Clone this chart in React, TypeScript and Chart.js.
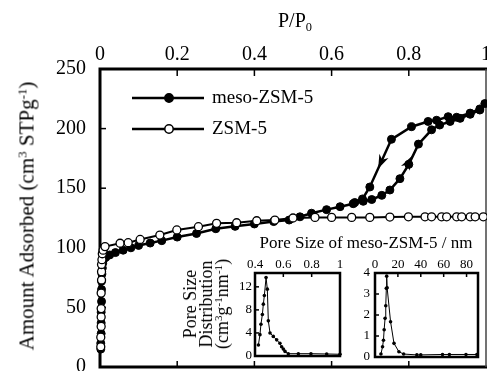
import React, { useEffect, useRef } from "react";
import { Chart, registerables } from "chart.js";

Chart.register(...registerables);

const SERIF = "'Liberation Serif', 'Times New Roman', Times, serif";

// ---------- Main isotherm ----------
const pTickValues = [0, 0.2, 0.4, 0.6, 0.8, 1];
const vTickValues = [0, 50, 100, 150, 200, 250];

const zsmP = [0.002, 0.002, 0.003, 0.003, 0.003, 0.003, 0.004, 0.004, 0.004, 0.005, 0.006, 0.008, 0.013, 0.052, 0.073, 0.104, 0.155, 0.199, 0.255, 0.302, 0.354, 0.406, 0.453, 0.5, 0.557, 0.6, 0.652, 0.699, 0.751, 0.799, 0.842, 0.859, 0.885, 0.898, 0.924, 0.937, 0.959, 0.972, 0.993];
const zsmV = [17, 25, 34, 42, 49, 62, 73, 80, 86, 90, 95, 98, 101, 103.8, 104.3, 107, 110.7, 115, 117.7, 120.5, 121, 122.7, 123.3, 125, 125.5, 125.5, 125.5, 125.5, 125.8, 126, 126, 126, 126, 126, 126, 126, 126, 126, 126];

const mesoP = [0.002, 0.002, 0.003, 0.003, 0.003, 0.004, 0.004, 0.004, 0.005, 0.006, 0.007, 0.009, 0.015, 0.025, 0.04, 0.06, 0.08, 0.1, 0.13, 0.16, 0.2, 0.25, 0.3, 0.35, 0.4, 0.45, 0.49, 0.518, 0.548, 0.587, 0.622, 0.656, 0.682, 0.704, 0.73, 0.751, 0.777, 0.8, 0.825, 0.859, 0.88, 0.907, 0.933, 0.959, 0.984, 0.997, 0.984, 0.959, 0.924, 0.902, 0.872, 0.85, 0.807, 0.755, 0.699, 0.68, 0.66];
const mesoV = [15, 20, 28, 37, 46, 55, 65, 72, 78, 83, 87, 90, 92, 94, 96, 98, 100, 102, 104, 106, 109, 112, 116, 118, 120, 122, 123.3, 126, 129, 132, 134.5, 137, 139, 140.5, 144, 148.5, 158, 170, 187, 199, 203, 206, 208.6, 212, 215.6, 221, 216.5, 213, 209.5, 210, 207, 206, 201.6, 191, 151, 141, 138];

// hysteresis arrows (segment tail -> head, drawn at the segment midpoint)
const arrowTailP = [0.755, 0.777];
const arrowTailV = [191, 158];
const arrowHeadP = [0.699, 0.825];
const arrowHeadV = [151, 187];

const legendLabels = ["meso-ZSM-5", "ZSM-5"];

// ---------- Inset 1 (micropore) ----------
const ins1Ticks = [0.4, 0.6, 0.8, 1];
const ins1YTicks = [0, 4, 8, 12];
const ins1D = [0.424, 0.435, 0.442, 0.452, 0.459, 0.466, 0.478, 0.487, 0.494, 0.506, 0.529, 0.553, 0.576, 0.588, 0.6, 0.612, 0.635, 0.706, 0.795, 0.906, 1.0];
const ins1V = [1.9, 3.7, 5.5, 7.2, 9.0, 10.5, 13.6, 11.6, 6.1, 4.0, 3.4, 2.8, 2.2, 1.6, 1.2, 0.8, 0.4, 0.4, 0.4, 0.35, 0.3];

// ---------- Inset 2 (mesopore) ----------
const ins2Ticks = [0, 20, 40, 60, 80];
const ins2YTicks = [0, 1, 2, 3, 4];
const ins2D = [5.2, 6.6, 7.4, 8.0, 8.8, 9.4, 9.9, 10.2, 10.6, 13.6, 16.6, 20.9, 25, 36.6, 40, 59, 65, 79.5, 89];
const ins2V = [0.14, 0.49, 0.8, 1.3, 1.84, 2.44, 3.27, 3.85, 3.3, 1.68, 0.65, 0.25, 0.14, 0.1, 0.1, 0.12, 0.12, 0.12, 0.12];

const fmt = (v: number) => String(parseFloat(Number(v).toFixed(1)));

function drawLine(ctx: CanvasRenderingContext2D, x1: number, y1: number, x2: number, y2: number) {
  ctx.beginPath();
  ctx.moveTo(x1, y1);
  ctx.lineTo(x2, y2);
  ctx.stroke();
}

function zeroPad(s: any) {
  s.paddingTop = 0;
  s.paddingBottom = 0;
  s.paddingLeft = 0;
  s.paddingRight = 0;
}

const mainPlugin = {
  id: "mainDecor",
  beforeDatasetsDraw(chart: any) {
    const { ctx, chartArea: a } = chart;
    const xs = chart.scales.x;
    const ys = chart.scales.y;
    ctx.save();
    ctx.strokeStyle = "#000";
    ctx.lineWidth = 3;
    ctx.lineCap = "square";
    ctx.beginPath();
    ctx.moveTo(a.right, a.top);
    ctx.lineTo(a.left, a.top);
    ctx.lineTo(a.left, a.bottom);
    ctx.lineTo(a.right, a.bottom);
    ctx.stroke();
    ctx.lineCap = "butt";
    ctx.lineWidth = 1.5;
    ctx.strokeStyle = "#444";
    drawLine(ctx, a.right, a.top, a.right, a.bottom);
    ctx.strokeStyle = "#000";
    pTickValues.forEach((v) => {
      if (v <= 0 || v >= 1) return;
      const px = xs.getPixelForValue(v);
      drawLine(ctx, px, a.top, px, a.top + 7);
      drawLine(ctx, px, a.bottom, px, a.bottom - 6);
    });
    vTickValues.forEach((v) => {
      if (v <= 0 || v >= 250) return;
      const py = ys.getPixelForValue(v);
      drawLine(ctx, a.left, py, a.left + 6, py);
    });
    ctx.restore();
  },
  afterDatasetsDraw(chart: any) {
    const { ctx, chartArea: a } = chart;
    const xs = chart.scales.x;
    const ys = chart.scales.y;
    ctx.save();
    // arrows
    ctx.fillStyle = "#000";
    for (let i = 0; i < arrowTailP.length; i++) {
      const x1 = xs.getPixelForValue(arrowTailP[i]);
      const y1 = ys.getPixelForValue(arrowTailV[i]);
      const x2 = xs.getPixelForValue(arrowHeadP[i]);
      const y2 = ys.getPixelForValue(arrowHeadV[i]);
      const len = Math.hypot(x2 - x1, y2 - y1);
      const ux = (x2 - x1) / len;
      const uy = (y2 - y1) / len;
      const mx = (x1 + x2) / 2 + ux * 6;
      const my = (y1 + y2) / 2 + uy * 6;
      const L = 14;
      const W = 5;
      ctx.beginPath();
      ctx.moveTo(mx, my);
      ctx.lineTo(mx - ux * L - uy * W, my - uy * L + ux * W);
      ctx.lineTo(mx - ux * L * 0.7, my - uy * L * 0.7);
      ctx.lineTo(mx - ux * L + uy * W, my - uy * L - ux * W);
      ctx.closePath();
      ctx.fill();
    }
    // legend
    const rows = [a.top + 29, a.top + 60];
    rows.forEach((y, i) => {
      ctx.strokeStyle = "#000";
      ctx.lineWidth = 2.5;
      drawLine(ctx, a.left + 32, y, a.left + 104, y);
      ctx.beginPath();
      ctx.arc(a.left + 69, y, 4.2, 0, Math.PI * 2);
      ctx.fillStyle = i === 0 ? "#000" : "#fff";
      ctx.fill();
      ctx.lineWidth = 1.5;
      ctx.stroke();
      ctx.fillStyle = "#000";
      ctx.font = `19px ${SERIF}`;
      ctx.textBaseline = "middle";
      ctx.textAlign = "left";
      ctx.fillText(legendLabels[i], a.left + 112, y);
    });
    ctx.restore();
  },
};

function makeInsetPlugin(xTicks: number[], yTicks: number[]) {
  return {
    id: "insetDecor",
    afterDatasetsDraw(chart: any) {
      const { ctx, chartArea: a } = chart;
      const xs = chart.scales.x;
      const ys = chart.scales.y;
      ctx.save();
      ctx.strokeStyle = "#000";
      ctx.lineWidth = 1.5;
      xTicks.forEach((v) => {
        const px = xs.getPixelForValue(v);
        if (px <= a.left + 1 || px >= a.right - 1) return;
        drawLine(ctx, px, a.top, px, a.top + 4);
      });
      yTicks.forEach((v) => {
        const py = ys.getPixelForValue(v);
        if (py <= a.top + 1 || py >= a.bottom - 1) return;
        drawLine(ctx, a.left, py, a.left + 4, py);
      });
      ctx.lineWidth = 2.5;
      ctx.strokeRect(a.left, a.top, a.right - a.left, a.bottom - a.top);
      ctx.restore();
    },
  };
}

function mainConfig(): any {
  return {
    type: "line",
    data: {
      datasets: [
        {
          label: "ZSM-5",
          data: zsmP.map((p, i) => ({ x: p, y: zsmV[i] })),
          borderColor: "#000",
          borderWidth: 2,
          pointRadius: 4,
          pointBorderWidth: 1.3,
          pointBackgroundColor: "#fff",
          pointBorderColor: "#000",
          tension: 0,
          clip: false,
        },
        {
          label: "meso-ZSM-5",
          data: mesoP.map((p, i) => ({ x: p, y: mesoV[i] })),
          borderColor: "#000",
          borderWidth: 2.5,
          pointRadius: 4,
          pointBorderWidth: 1,
          pointBackgroundColor: "#000",
          pointBorderColor: "#000",
          tension: 0,
          clip: false,
        },
      ],
    },
    options: {
      animation: false,
      responsive: false,
      events: [],
      layout: { padding: { left: 0, top: 0, right: 1, bottom: 4 }, autoPadding: false },
      plugins: { legend: { display: false }, tooltip: { enabled: false } },
      scales: {
        x: {
          type: "linear",
          position: "top",
          min: 0,
          max: 1,
          afterFit: (s: any) => { s.height = 69; zeroPad(s); },
          grid: { display: false, drawTicks: false },
          border: { display: false },
          ticks: {
            stepSize: 0.2,
            padding: 2,
            color: "#000",
            maxRotation: 0,
            autoSkip: false,
            font: { family: SERIF, size: 20 },
            callback: (v: any) => fmt(v),
          },
        },
        y: {
          type: "linear",
          position: "left",
          min: 0,
          max: 250,
          afterFit: (s: any) => { s.width = 100; zeroPad(s); },
          grid: { display: false, drawTicks: false },
          border: { display: false },
          ticks: {
            stepSize: 50,
            padding: 14,
            color: "#000",
            font: { family: SERIF, size: 20 },
          },
        },
      },
    },
    plugins: [mainPlugin],
  };
}

function insetConfig(
  d: number[], v: number[], xTicks: number[], yTicks: number[],
  xMin: number, xMax: number, yMax: number, step: number, yStep: number,
  yWidth: number, pad: any, yPad: number
): any {
  return {
    type: "line",
    data: {
      datasets: [
        {
          data: d.map((x, i) => ({ x, y: v[i] })),
          borderColor: "#000",
          borderWidth: 1,
          pointRadius: 1.8,
          pointBackgroundColor: "#000",
          pointBorderColor: "#000",
          pointBorderWidth: 0,
          tension: 0,
          clip: false,
        },
      ],
    },
    options: {
      animation: false,
      responsive: false,
      events: [],
      layout: { padding: pad, autoPadding: false },
      plugins: { legend: { display: false }, tooltip: { enabled: false } },
      scales: {
        x: {
          type: "linear",
          position: "top",
          min: xMin,
          max: xMax,
          afterFit: (s: any) => { s.height = 25; zeroPad(s); },
          grid: { display: false, drawTicks: false },
          border: { display: false },
          ticks: {
            stepSize: step,
            includeBounds: false,
            padding: 1,
            color: "#000",
            maxRotation: 0,
            autoSkip: false,
            font: { family: SERIF, size: 13 },
            callback: (val: any) => fmt(val),
          },
        },
        y: {
          type: "linear",
          position: "left",
          min: 0,
          max: yMax,
          afterFit: (s: any) => { s.width = yWidth; zeroPad(s); },
          grid: { display: false, drawTicks: false },
          border: { display: false },
          ticks: {
            stepSize: yStep,
            includeBounds: false,
            padding: yPad,
            color: "#000",
            font: { family: SERIF, size: 13 },
          },
        },
      },
    },
    plugins: [makeInsetPlugin(xTicks, yTicks)],
  };
}

function ChartCanvas(props: { left: number; top: number; width: number; height: number; make: () => any }) {
  const ref = useRef<HTMLCanvasElement>(null);
  useEffect(() => {
    const chart = new Chart(ref.current as HTMLCanvasElement, props.make());
    return () => chart.destroy();
  }, []);
  return (
    <canvas
      ref={ref}
      width={props.width}
      height={props.height}
      style={{ position: "absolute", left: props.left, top: props.top, width: props.width, height: props.height }}
    />
  );
}

const supStyle: React.CSSProperties = { fontSize: "0.62em", verticalAlign: "0.55em", lineHeight: 0 };
const subStyle: React.CSSProperties = { fontSize: "0.62em", verticalAlign: "-0.3em", lineHeight: 0 };

export default function App() {
  return (
    <div
      style={{
        position: "fixed",
        left: 0,
        top: 0,
        width: 487,
        height: 371,
        background: "#fff",
        overflow: "hidden",
        fontFamily: SERIF,
        color: "#000",
      }}
    >
      <ChartCanvas left={0} top={0} width={487} height={371} make={mainConfig} />
      <ChartCanvas
        left={220}
        top={248}
        width={125}
        height={112}
        make={() => insetConfig(ins1D, ins1V, ins1Ticks, ins1YTicks, 0.4, 1, 14.4, 0.2, 4, 35, { left: 0, top: 0, right: 5, bottom: 4 }, 3)}
      />
      <ChartCanvas
        left={352}
        top={248}
        width={135}
        height={114}
        make={() => insetConfig(ins2D, ins2V, ins2Ticks, ins2YTicks, 0, 90, 4, 20, 1, 23, { left: 0, top: 0, right: 9, bottom: 5 }, 5)}
      />
      {/* top axis title */}
      <div style={{ position: "absolute", left: 295, top: 20, transform: "translate(-50%, -50%)", fontSize: 20, lineHeight: 1, whiteSpace: "nowrap" }}>
        P/P<span style={subStyle}>0</span>
      </div>
      {/* y axis title */}
      <div
        style={{
          position: "absolute",
          left: 27,
          top: 216,
          transform: "translate(-50%, -50%) rotate(-90deg)",
          fontSize: 21,
          lineHeight: 1,
          whiteSpace: "nowrap",
        }}
      >
        Amount Adsorbed (cm<span style={supStyle}>3</span> STPg<span style={supStyle}>-1</span>)
      </div>
      {/* inset x title */}
      <div style={{ position: "absolute", left: 366, top: 242, transform: "translate(-50%, -50%)", fontSize: 17, lineHeight: 1, whiteSpace: "nowrap" }}>
        Pore Size of meso-ZSM-5 / nm
      </div>
      {/* inset y title */}
      <div
        style={{
          position: "absolute",
          left: 206,
          top: 304,
          transform: "translate(-50%, -50%) rotate(-90deg)",
          fontSize: 18,
          lineHeight: "16px",
          whiteSpace: "nowrap",
          textAlign: "center",
        }}
      >
        <div>Pore Size</div>
        <div>Distribution</div>
        <div>
          (cm<span style={supStyle}>3</span>g<span style={supStyle}>-1</span>nm<span style={supStyle}>-1</span>)
        </div>
      </div>
    </div>
  );
}
